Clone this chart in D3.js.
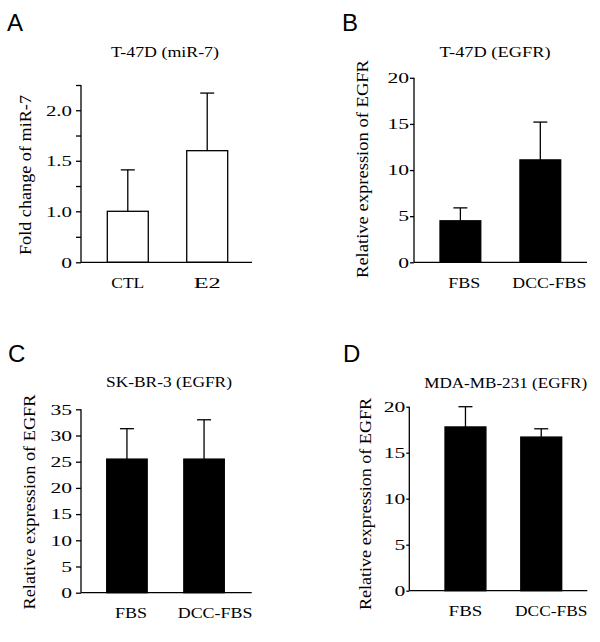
<!DOCTYPE html>
<html><head><meta charset="utf-8">
<script src="https://cdn.jsdelivr.net/npm/d3@7"></script>
<style>
html,body{margin:0;padding:0;background:#fff;}
svg{display:block;}
</style>
</head><body>
<svg id="chart" width="600" height="642"></svg>
<script>
// ---- data ----
const titles = ["T-47D (miR-7)", "T-47D (EGFR)", "SK-BR-3 (EGFR)", "MDA-MB-231 (EGFR)"];
const panelLetters = ["A", "B", "C", "D"];
const yTitles = ["Fold change of miR-7", "Relative expression of EGFR", "Relative expression of EGFR", "Relative expression of EGFR"];

const categoriesA = ["CTL", "E2"];
const meansA = [1.0, 1.6];
const errorsA = [0.41, 0.57];
const ticksA = [0, 0.5, 1.0, 1.25, 1.5, 1.75, 2.0, 2.25];
const tickLabelsA = ["0", "", "1.0", "", "1.5", "", "2.0", ""];

const categoriesB = ["FBS", "DCC-FBS"];
const meansB = [4.5, 11.1];
const errorsB = [1.4, 4.1];
const ticksB = [0, 5, 10, 15, 20];
const tickLabelsB = ["0", "5", "10", "15", "20"];

const categoriesC = ["FBS", "DCC-FBS"];
const meansC = [25.5, 25.5];
const errorsC = [5.8, 7.5];
const ticksC = [0, 5, 10, 15, 20, 25, 30, 35];
const tickLabelsC = ["0", "5", "10", "15", "20", "25", "30", "35"];

const categoriesD = ["FBS", "DCC-FBS"];
const meansD = [17.8, 16.7];
const errorsD = [2.2, 0.9];
const ticksD = [0, 5, 10, 15, 20];
const tickLabelsD = ["0", "5", "10", "15", "20"];

const fills = ["#ffffff", "#000000", "#000000", "#000000"];

// ---- layout ----
const layouts = [
  {x0:81, x1:252, yDomain:[0,1,2.25], yRange:[262.3,211.3,85], band:[107.3,227.7], pad:0.484,
   tickSize:5, tickPad:4, letter:[7,30.7], title:[165,57], titleW:108, ylab:[31,175], ylabW:160,
   catY:288.3, catShift:[0,0], catW:[33,27]},
  {x0:414, x1:587, yDomain:[0,20], yRange:[262.3,77.8], band:[440,560.7], pad:0.49,
   tickSize:4, tickPad:1, letter:[342,30.7], title:[495,57], titleW:111, ylab:[368,169], ylabW:218,
   catY:288.3, catShift:[4,9], catW:[32,74]},
  {x0:81, x1:251.7, yDomain:[0,35], yRange:[592.7,409.3], band:[106.7,224.3], pad:0.475,
   tickSize:5, tickPad:4, letter:[8,361.7], title:[169,386.7], titleW:126, ylab:[35,502], ylabW:215,
   catY:617.7, catShift:[4,11], catW:[32,74.6]},
  {x0:409.3, x1:587.3, yDomain:[0,20], yRange:[590.7,406.7], band:[445,561.7], pad:0.46,
   tickSize:3, tickPad:1, letter:[343,361.7], title:[505.7,387.7], titleW:163, ylab:[371,504], ylabW:212,
   catY:616, catShift:[0,10], catW:[33.7,72.3]}
];

const panels = [
  {cats:categoriesA, means:meansA, errs:errorsA, ticks:ticksA, tickLabels:tickLabelsA},
  {cats:categoriesB, means:meansB, errs:errorsB, ticks:ticksB, tickLabels:tickLabelsB},
  {cats:categoriesC, means:meansC, errs:errorsC, ticks:ticksC, tickLabels:tickLabelsC},
  {cats:categoriesD, means:meansD, errs:errorsD, ticks:ticksD, tickLabels:tickLabelsD}
];

const svg = d3.select("#chart");
const serif = "'Liberation Serif', 'Times New Roman', serif";
const sans = "'Liberation Sans', Arial, sans-serif";

function tickTextWidth(s) {
  let w = 0;
  for (const ch of s) w += (ch === ".") ? 4.5 : 10.8;
  return w;
}

panels.forEach((p, i) => {
  const L = layouts[i];
  const g = svg.append("g");
  const y = d3.scaleLinear().domain(L.yDomain).range(L.yRange);
  const x = d3.scaleBand().domain(p.cats).range(L.band).paddingInner(L.pad).paddingOuter(0);

  // panel letter
  g.append("text").attr("x", L.letter[0]).attr("y", L.letter[1])
    .attr("font-family", sans).attr("font-size", 24).text(panelLetters[i]);

  // title
  g.append("text").attr("x", L.title[0]).attr("y", L.title[1])
    .attr("text-anchor", "middle").attr("font-family", serif).attr("font-size", 15)
    .attr("textLength", L.titleW).attr("lengthAdjust", "spacingAndGlyphs")
    .text(titles[i]);

  // y axis label
  g.append("text").attr("transform", `translate(${L.ylab[0]},${L.ylab[1]}) rotate(-90)`)
    .attr("text-anchor", "middle").attr("font-family", serif).attr("font-size", 16)
    .attr("textLength", L.ylabW).attr("lengthAdjust", "spacingAndGlyphs")
    .text(yTitles[i]);

  // bars
  g.selectAll("rect.bar").data(p.cats).enter().append("rect")
    .attr("x", d => x(d)).attr("width", x.bandwidth())
    .attr("y", (d, j) => y(p.means[j]))
    .attr("height", (d, j) => y(0) - y(p.means[j]))
    .attr("fill", fills[i]).attr("stroke", "#000").attr("stroke-width", 1.3);

  // error bars (upward only)
  const capW = 14;
  p.cats.forEach((c, j) => {
    const cx = x(c) + x.bandwidth() / 2;
    const top = y(p.means[j] + p.errs[j]);
    g.append("line").attr("x1", cx).attr("x2", cx)
      .attr("y1", y(p.means[j])).attr("y2", top)
      .attr("stroke", "#000").attr("stroke-width", 1.3);
    g.append("line").attr("x1", cx - capW / 2).attr("x2", cx + capW / 2)
      .attr("y1", top).attr("y2", top)
      .attr("stroke", "#000").attr("stroke-width", 1.3);
  });

  // x baseline
  g.append("line").attr("x1", L.x0).attr("x2", L.x1)
    .attr("y1", y(0)).attr("y2", y(0))
    .attr("stroke", "#000").attr("stroke-width", 1.3);

  // y axis
  const axis = d3.axisLeft(y).tickValues(p.ticks)
    .tickFormat((d, k) => p.tickLabels[k])
    .tickSize(L.tickSize).tickPadding(L.tickPad);
  const ax = g.append("g").attr("transform", `translate(${L.x0},0)`).call(axis);
  const yr = y.range();
  ax.select(".domain").attr("stroke", "#000").attr("stroke-width", 1.3)
    .attr("d", `M0,${yr[0]}V${yr[yr.length - 1]}`);
  ax.selectAll(".tick line").attr("stroke", "#000").attr("stroke-width", 1.3);
  ax.selectAll(".tick text").attr("font-family", serif).attr("font-size", 15).attr("fill", "#000")
    .each(function() {
      const s = d3.select(this).text();
      if (s) d3.select(this).attr("textLength", tickTextWidth(s)).attr("lengthAdjust", "spacingAndGlyphs");
    });

  // category labels
  p.cats.forEach((c, j) => {
    g.append("text").attr("x", x(c) + x.bandwidth() / 2 + L.catShift[j]).attr("y", L.catY)
      .attr("text-anchor", "middle").attr("font-family", serif).attr("font-size", 15)
      .attr("textLength", L.catW[j]).attr("lengthAdjust", "spacingAndGlyphs")
      .text(c);
  });
});
</script>
</body></html>
